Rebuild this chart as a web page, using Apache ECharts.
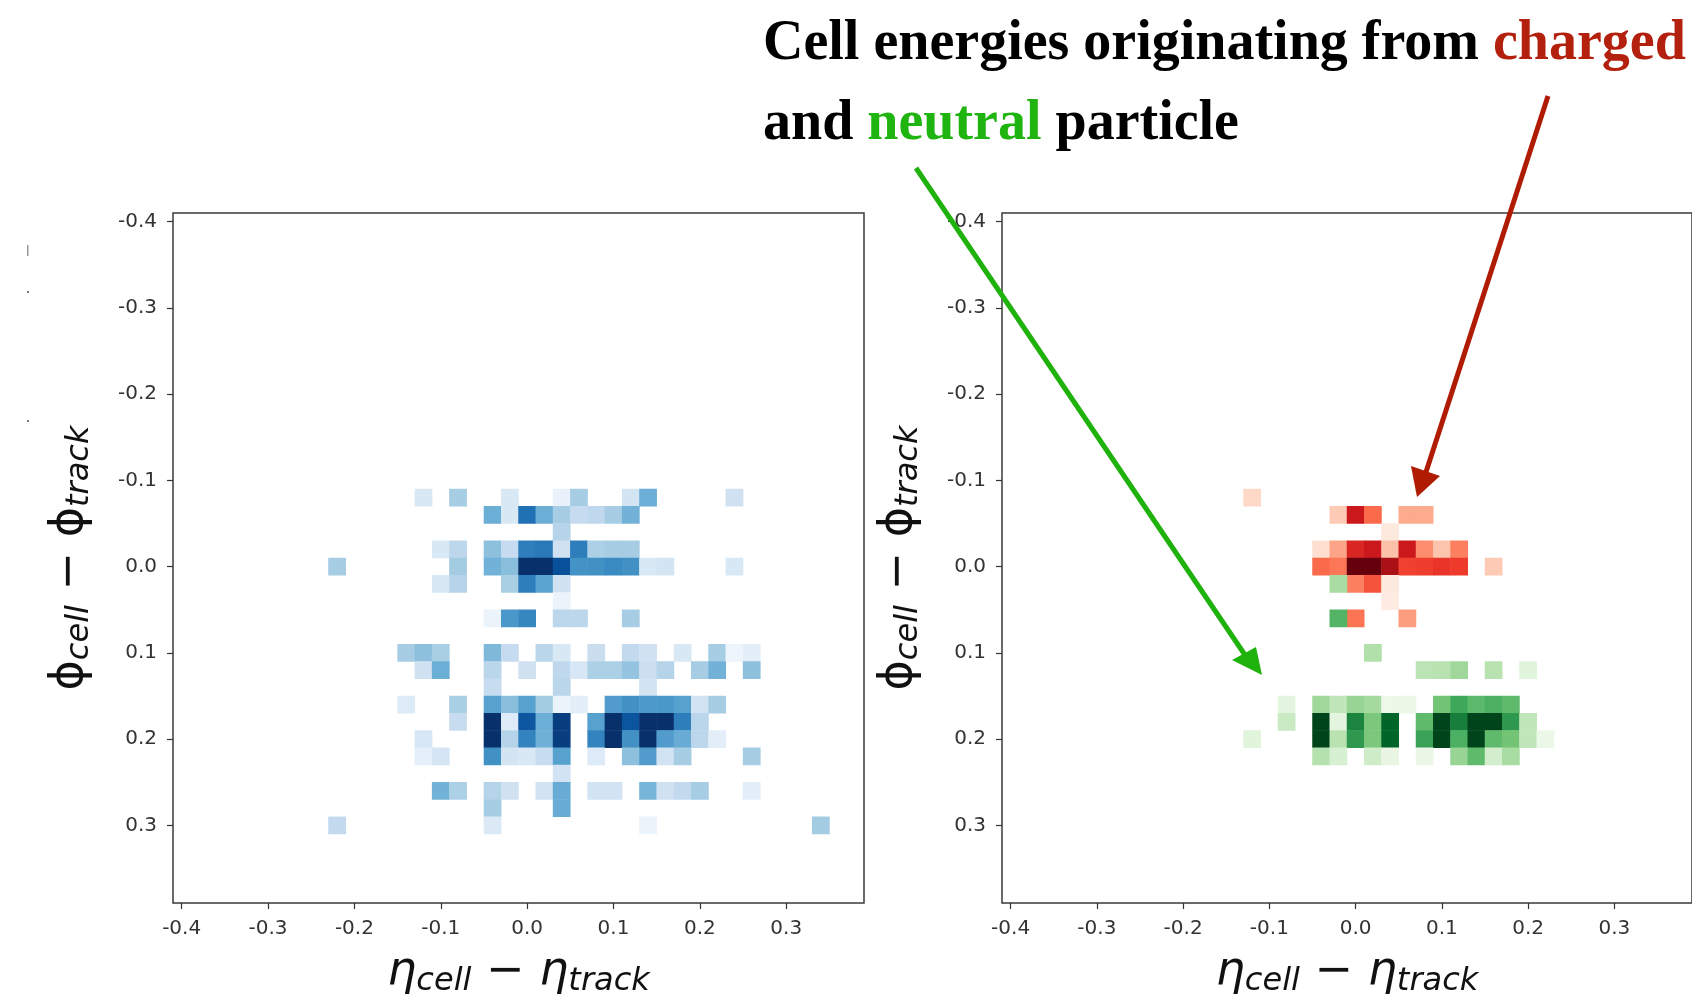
<!DOCTYPE html>
<html>
<head>
    <meta charset="utf-8">
    <script src="https://cdn.jsdelivr.net/npm/echarts@6/dist/echarts.min.js"></script>
    <style>
        html, body { margin: 0; padding: 0; background: #fff; }
    </style>
</head>
<body>
<div id="main" style="width: 1692px;height:998px;"></div>
<script type="text/javascript">
    // bin centres (0.02 wide), same binning for eta and phi
    var bins = ['-0.40', '-0.38', '-0.36', '-0.34', '-0.32', '-0.30', '-0.28', '-0.26', '-0.24', '-0.22',
        '-0.20', '-0.18', '-0.16', '-0.14', '-0.12', '-0.10', '-0.08', '-0.06', '-0.04', '-0.02',
        '0.00', '0.02', '0.04', '0.06', '0.08', '0.10', '0.12', '0.14', '0.16', '0.18',
        '0.20', '0.22', '0.24', '0.26', '0.28', '0.30', '0.32', '0.34', '0.36', '0.38'];
    var tickLabels = ['-0.4', '-0.3', '-0.2', '-0.1', '0.0', '0.1', '0.2', '0.3'];

    // [eta, phi, energy]  - left plot, all cells
    var allCells = [
        [-0.12, -0.08, 1.5], [-0.08, -0.08, 3.5], [-0.02, -0.08, 1.5], [0.04, -0.08, 0.7], [0.06, -0.08, 3.5], [0.12, -0.08, 1.8], [0.14, -0.08, 5], [0.24, -0.08, 2],
        [-0.04, -0.06, 5], [-0.02, -0.06, 1.5], [0.00, -0.06, 7.5], [0.02, -0.06, 5], [0.04, -0.06, 3.5], [0.06, -0.06, 2.5], [0.08, -0.06, 2.7], [0.10, -0.06, 3.5], [0.12, -0.06, 4.8],
        [0.04, -0.04, 3],
        [-0.10, -0.02, 1.5], [-0.08, -0.02, 2.8], [-0.04, -0.02, 4.2], [-0.02, -0.02, 2.5], [0.00, -0.02, 7], [0.02, -0.02, 7.2], [0.04, -0.02, 2], [0.06, -0.02, 7], [0.08, -0.02, 3.3], [0.10, -0.02, 3.5], [0.12, -0.02, 3.5],
        [-0.22, 0.00, 3.5], [-0.08, 0.00, 3.6], [-0.04, 0.00, 4.8], [-0.02, 0.00, 4.3], [0.00, 0.00, 10], [0.02, 0.00, 10], [0.04, 0.00, 8.8], [0.06, 0.00, 6.2], [0.08, 0.00, 6.3], [0.10, 0.00, 6.5], [0.12, 0.00, 6.3], [0.14, 0.00, 1.5], [0.16, 0.00, 1.8], [0.24, 0.00, 1.5],
        [-0.10, 0.02, 1.5], [-0.08, 0.02, 3], [-0.02, 0.02, 3.4], [0.00, 0.02, 7], [0.02, 0.02, 5.5], [0.04, 0.02, 2],
        [0.04, 0.04, 0.6],
        [-0.04, 0.06, 0.6], [-0.02, 0.06, 6], [0.00, 0.06, 6.7], [0.04, 0.06, 2.8], [0.06, 0.06, 2.8], [0.12, 0.06, 3.5],
        [-0.14, 0.10, 3.5], [-0.12, 0.10, 4.2], [-0.10, 0.10, 3.4], [-0.04, 0.10, 4.5], [-0.02, 0.10, 2.5], [0.02, 0.10, 2.9], [0.04, 0.10, 1.5], [0.08, 0.10, 2.3], [0.12, 0.10, 2.6], [0.14, 0.10, 2], [0.18, 0.10, 1.5], [0.22, 0.10, 3.5], [0.24, 0.10, 0.5], [0.26, 0.10, 1],
        [-0.12, 0.12, 2], [-0.10, 0.12, 5], [-0.04, 0.12, 2.9], [0.00, 0.12, 2], [0.04, 0.12, 2.7], [0.06, 0.12, 1.6], [0.08, 0.12, 3.3], [0.10, 0.12, 3.3], [0.12, 0.12, 4], [0.14, 0.12, 2.2], [0.16, 0.12, 3], [0.20, 0.12, 3.5], [0.22, 0.12, 4.8], [0.26, 0.12, 4.2],
        [-0.04, 0.14, 2.4], [0.04, 0.14, 2.9], [0.14, 0.14, 1.8],
        [-0.14, 0.16, 1.3], [-0.08, 0.16, 3.4], [-0.04, 0.16, 5.6], [-0.02, 0.16, 4.3], [0.00, 0.16, 5.6], [0.02, 0.16, 3.6], [0.04, 0.16, 0.6], [0.06, 0.16, 1], [0.10, 0.16, 5.8], [0.12, 0.16, 6.3], [0.14, 0.16, 5.9], [0.16, 0.16, 6], [0.18, 0.16, 5.6], [0.20, 0.16, 1.9], [0.22, 0.16, 3.5],
        [-0.08, 0.18, 2.4], [-0.04, 0.18, 10], [-0.02, 0.18, 1.3], [0.00, 0.18, 8.5], [0.02, 0.18, 5], [0.04, 0.18, 9.5], [0.08, 0.18, 5.6], [0.10, 0.18, 10], [0.12, 0.18, 8.6], [0.14, 0.18, 10], [0.16, 0.18, 10], [0.18, 0.18, 7], [0.20, 0.18, 2.9],
        [-0.12, 0.20, 1.6], [-0.04, 0.20, 10], [-0.02, 0.20, 3], [0.00, 0.20, 6.8], [0.02, 0.20, 4.9], [0.04, 0.20, 9.5], [0.08, 0.20, 6.8], [0.10, 0.20, 10], [0.12, 0.20, 6.3], [0.14, 0.20, 10], [0.16, 0.20, 5.8], [0.18, 0.20, 5.1], [0.20, 0.20, 2.8], [0.22, 0.20, 1],
        [-0.12, 0.22, 0.9], [-0.10, 0.22, 1.7], [-0.04, 0.22, 6.3], [-0.02, 0.22, 1.8], [0.00, 0.22, 1.5], [0.02, 0.22, 2.4], [0.04, 0.22, 5.6], [0.08, 0.22, 1.3], [0.12, 0.22, 4.2], [0.14, 0.22, 5.8], [0.16, 0.22, 1.9], [0.18, 0.22, 3.5], [0.26, 0.22, 3.5],
        [0.04, 0.24, 1.9],
        [-0.10, 0.26, 4.8], [-0.08, 0.26, 3.3], [-0.04, 0.26, 3], [-0.02, 0.26, 2], [0.02, 0.26, 1.9], [0.04, 0.26, 5.1], [0.08, 0.26, 1.9], [0.10, 0.26, 1.9], [0.14, 0.26, 4.7], [0.16, 0.26, 2], [0.18, 0.26, 2.6], [0.20, 0.26, 3.5], [0.26, 0.26, 1],
        [-0.04, 0.28, 3.5], [0.04, 0.28, 5.1],
        [-0.22, 0.30, 2.6], [-0.04, 0.30, 1.4], [0.14, 0.30, 0.6], [0.34, 0.30, 3.6]
    ];

    // right plot, charged particle cells
    var chargedCells = [
        [-0.12, -0.08, 1.5],
        [-0.02, -0.06, 2], [0.00, -0.06, 7.5], [0.02, -0.06, 5], [0.06, -0.06, 3], [0.08, -0.06, 3],
        [0.04, -0.04, 0.7],
        [-0.04, -0.02, 1.3], [-0.02, -0.02, 3.2], [0.00, -0.02, 7], [0.02, -0.02, 7.5], [0.04, -0.02, 2.3], [0.06, -0.02, 7.5], [0.08, -0.02, 3.9], [0.10, -0.02, 2.2], [0.12, -0.02, 4.3],
        [-0.04, 0.00, 5], [-0.02, 0.00, 4.6], [0.00, 0.00, 10], [0.02, 0.00, 10], [0.04, 0.00, 8.6], [0.06, 0.00, 6.1], [0.08, 0.00, 6.2], [0.10, 0.00, 6.5], [0.12, 0.00, 6.3], [0.16, 0.00, 2],
        [0.00, 0.02, 4.3], [0.02, 0.02, 5.6], [0.04, 0.02, 0.7],
        [0.04, 0.04, 0.6],
        [0.00, 0.06, 4.7], [0.06, 0.06, 3.4]
    ];

    // right plot, neutral particle cells
    var neutralCells = [
        [-0.02, 0.02, 3.5],
        [-0.02, 0.06, 5.8],
        [0.02, 0.10, 3.2],
        [0.08, 0.12, 2.9], [0.10, 0.12, 3], [0.12, 0.12, 3.8], [0.16, 0.12, 3], [0.20, 0.12, 1.4],
        [-0.08, 0.16, 1.3], [-0.04, 0.16, 3.8], [-0.02, 0.16, 2.7], [0.00, 0.16, 4], [0.02, 0.16, 3.6], [0.04, 0.16, 0.7], [0.06, 0.16, 0.8], [0.10, 0.16, 5], [0.12, 0.16, 6.4], [0.14, 0.16, 5.6], [0.16, 0.16, 6], [0.18, 0.16, 5.5],
        [-0.08, 0.18, 2.4], [-0.04, 0.18, 10], [-0.02, 0.18, 1.3], [0.00, 0.18, 7.8], [0.02, 0.18, 4.8], [0.04, 0.18, 9], [0.08, 0.18, 5.5], [0.10, 0.18, 10], [0.12, 0.18, 8], [0.14, 0.18, 10], [0.16, 0.18, 10], [0.18, 0.18, 7], [0.20, 0.18, 2.7],
        [-0.12, 0.20, 1.4], [-0.04, 0.20, 10], [-0.02, 0.20, 3], [0.00, 0.20, 7], [0.02, 0.20, 4.8], [0.04, 0.20, 9], [0.08, 0.20, 6.6], [0.10, 0.20, 10], [0.12, 0.20, 6], [0.14, 0.20, 10], [0.16, 0.20, 5.5], [0.18, 0.20, 5], [0.20, 0.20, 2.7], [0.22, 0.20, 0.8],
        [-0.04, 0.22, 3.1], [-0.02, 0.22, 1.8], [0.02, 0.22, 2.2], [0.04, 0.22, 1], [0.08, 0.22, 0.9], [0.12, 0.22, 4], [0.14, 0.22, 5.5], [0.16, 0.22, 2], [0.18, 0.22, 3.5]
    ];

    // matplotlib-like colour maps
    var blues = ['#f7fbff', '#deebf7', '#c6dbef', '#9ecae1', '#6baed6', '#4292c6', '#2171b5', '#08519c', '#08306b'];
    var reds = ['#fff5f0', '#fee0d2', '#fcbba1', '#fc9272', '#fb6a4a', '#ef3b2c', '#cb181d', '#a50f15', '#67000d'];
    var greens = ['#f7fcf5', '#e5f5e0', '#c7e9c0', '#a1d99b', '#74c476', '#41ab5d', '#238b45', '#006d2c', '#00441b'];

    function toCells(list) {
        return list.map(function (c) {
            return [bins.indexOf(c[0].toFixed(2)), bins.indexOf(c[1].toFixed(2)), c[2]];
        });
    }

    var every5 = function (idx) { return idx % 5 === 0; };
    var labelFont = {fontFamily: 'DejaVu Sans', fontSize: 20, color: '#333'};

    var mathRich = {
        m: {fontFamily: 'DejaVu Sans', fontSize: 46, fontStyle: 'italic', color: '#111'},
        p: {fontFamily: 'DejaVu Sans', fontSize: 46, color: '#111'},
        o: {fontFamily: 'DejaVu Sans', fontSize: 46, color: '#111'},
        s: {fontFamily: 'DejaVu Sans', fontSize: 32, fontStyle: 'italic', color: '#111', padding: [20, 0, 0, 0]}
    };

    function xAxisFor(g) {
        return {
            gridIndex: g, type: 'category', data: bins,
            axisLine: {show: false},
            axisTick: {show: true, alignWithLabel: true, interval: every5, length: 6, lineStyle: {color: '#333', width: 1.2}},
            axisLabel: Object.assign({interval: every5, margin: 16, formatter: function (v, i) { return tickLabels[i / 5]; }}, labelFont),
            splitLine: {show: false},
            name: '{m|η}{s|cell}{o| − }{m|η}{s|track}',
            nameLocation: 'middle', nameGap: 43,
            nameTextStyle: {rich: mathRich}
        };
    }

    function yAxisFor(g) {
        return {
            gridIndex: g, type: 'category', data: bins, inverse: true,
            axisLine: {show: false},
            axisTick: {show: true, alignWithLabel: true, interval: every5, length: 6, lineStyle: {color: '#333', width: 1.2}},
            axisLabel: Object.assign({interval: every5, margin: 16, formatter: function (v, i) { return tickLabels[i / 5]; }}, labelFont),
            splitLine: {show: false},
            name: '{p|ϕ}{s|cell}{o| − }{p|ϕ}{s|track}',
            nameLocation: 'middle', nameGap: 77,
            nameTextStyle: {rich: mathRich}
        };
    }

    function heat(data, g) {
        return {
            type: 'heatmap', xAxisIndex: g, yAxisIndex: g, data: toCells(data),
            itemStyle: {borderWidth: 0},
            emphasis: {disabled: true}, silent: true, progressive: 0
        };
    }

    var myChart = echarts.init(document.getElementById('main'));

    var titleFont = 'bold 56px "Liberation Serif"';
    myChart.setOption({
        backgroundColor: '#fff',
        animation: false,
        grid: [
            {left: 173, top: 213, width: 691, height: 690, show: true, borderColor: '#3a3a3a', borderWidth: 1.5, backgroundColor: 'transparent', outerBoundsMode: 'none', containLabel: false},
            {left: 1002, top: 213, width: 690, height: 690, show: true, borderColor: '#3a3a3a', borderWidth: 1.5, backgroundColor: 'transparent', outerBoundsMode: 'none', containLabel: false}
        ],
        xAxis: [xAxisFor(0), xAxisFor(1)],
        yAxis: [yAxisFor(0), yAxisFor(1)],
        visualMap: [
            {type: 'continuous', show: false, seriesIndex: 0, min: 0, max: 10, inRange: {color: blues}},
            {type: 'continuous', show: false, seriesIndex: 1, min: 0, max: 10, inRange: {color: reds}},
            {type: 'continuous', show: false, seriesIndex: 2, min: 0, max: 10, inRange: {color: greens}}
        ],
        series: [heat(allCells, 0), heat(chargedCells, 1), heat(neutralCells, 1)],
        graphic: [
            {
                type: 'text', x: 763, y: 45, z: 100,
                style: {
                    text: '{k|Cell energies originating from }{r|charged}',
                    verticalAlign: 'middle',
                    rich: {k: {font: titleFont, fill: '#000'}, r: {font: titleFont, fill: '#b3200e'}}
                }
            },
            {
                type: 'text', x: 763, y: 125, z: 100,
                style: {
                    text: '{k|and }{g|neutral}{k| particle}',
                    verticalAlign: 'middle',
                    rich: {k: {font: titleFont, fill: '#000'}, g: {font: titleFont, fill: '#1fb40f'}}
                }
            },
            // green arrow
            {type: 'line', z: 100, shape: {x1: 916, y1: 168, x2: 1245, y2: 655}, style: {stroke: '#1fb10c', lineWidth: 5}},
            {type: 'polygon', z: 100, shape: {points: [[1262, 675], [1232, 660], [1256, 647]]}, style: {fill: '#1fb10c'}},
            // red arrow
            {type: 'line', z: 100, shape: {x1: 1548, y1: 96, x2: 1426, y2: 472}, style: {stroke: '#b01b04', lineWidth: 5}},
            {type: 'polygon', z: 100, shape: {points: [[1417, 497], [1411, 466], [1440, 476]]}, style: {fill: '#b01b04'}},
            // leftover marks at the left edge of the source picture
            {type: 'rect', shape: {x: 27, y: 245, width: 1.5, height: 11}, style: {fill: '#999'}},
            {type: 'rect', shape: {x: 27, y: 291, width: 2, height: 2}, style: {fill: '#777'}},
            {type: 'rect', shape: {x: 27, y: 420, width: 2, height: 2}, style: {fill: '#777'}}
        ]
    });
</script>
</body>
</html>
